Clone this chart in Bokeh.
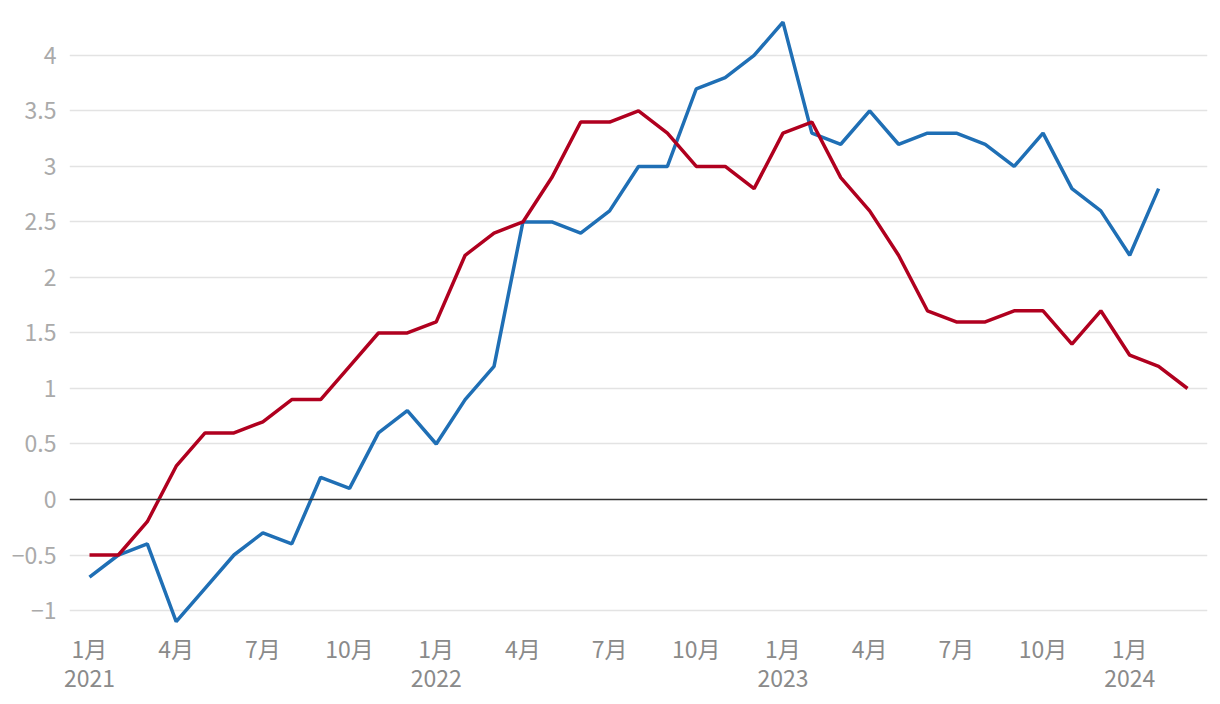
from bokeh.plotting import figure
from bokeh.models import Range1d, LinearAxis, FixedTicker, Span
from bokeh.embed import file_html
from bokeh.resources import INLINE

months = list(range(39))
blue = [-0.7, -0.5, -0.4, -1.1, -0.8, -0.5, -0.3, -0.4, 0.2, 0.1, 0.6, 0.8,
        0.5, 0.9, 1.2, 2.5, 2.5, 2.4, 2.6, 3.0, 3.0, 3.7, 3.8, 4.0,
        4.3, 3.3, 3.2, 3.5, 3.2, 3.3, 3.3, 3.2, 3.0, 3.3, 2.8, 2.6,
        2.2, 2.8]
red = [-0.5, -0.5, -0.2, 0.3, 0.6, 0.6, 0.7, 0.9, 0.9, 1.2, 1.5, 1.5,
       1.6, 2.2, 2.4, 2.5, 2.9, 3.4, 3.4, 3.5, 3.3, 3.0, 3.0, 2.8,
       3.3, 3.4, 2.9, 2.6, 2.2, 1.7, 1.6, 1.6, 1.7, 1.7, 1.4, 1.7,
       1.3, 1.2, 1.0]
month_ticks = [0, 3, 6, 9, 12, 15, 18, 21, 24, 27, 30, 33, 36]
month_labels = ["1月", "4月", "7月", "10月"] * 3 + ["1月"]
year_ticks = [0, 12, 24, 36]
year_labels = ["2021", "2022", "2023", "2024"]
y_ticks = [-1, -0.5, 0, 0.5, 1, 1.5, 2, 2.5, 3, 3.5, 4]

FONT = "Noto Sans CJK JP"

p = figure(width=1220, height=704, output_backend="svg", toolbar_location=None,
           x_range=Range1d(-0.692, 38.692), y_range=Range1d(-1.18, 4.45),
           min_border_left=69, min_border_right=13, min_border_top=5,
           min_border_bottom=74, x_axis_location=None)
p.outline_line_color = None
p.background_fill_color = "white"

p.xgrid.visible = False
p.ygrid.grid_line_color = "#e3e3e3"
p.ygrid.grid_line_width = 1.5
p.ygrid.ticker = FixedTicker(ticks=[t for t in y_ticks if t != 0])

ya = p.yaxis[0]
ya.ticker = FixedTicker(ticks=y_ticks)
ya.major_label_overrides = {t: (("−" if t < 0 else "") + ("%g" % abs(t))) for t in y_ticks}
ya.axis_line_color = None
ya.major_tick_line_color = None
ya.minor_tick_line_color = None
ya.major_tick_out = 0
ya.major_tick_in = 0
ya.major_label_text_font = FONT
ya.major_label_text_font_size = "23px"
ya.major_label_text_color = "#aaaaaa"
ya.major_label_standoff = 13

xa = LinearAxis(ticker=FixedTicker(ticks=month_ticks),
                major_label_overrides={t: l for t, l in zip(month_ticks, month_labels)})
xa2 = LinearAxis(ticker=FixedTicker(ticks=year_ticks),
                 major_label_overrides={t: l for t, l in zip(year_ticks, year_labels)})
for a in (xa, xa2):
    a.axis_line_color = None
    a.major_tick_line_color = None
    a.minor_tick_line_color = None
    a.major_tick_out = 0
    a.major_tick_in = 0
    a.major_label_text_font = FONT
    a.major_label_text_font_size = "23px"
    a.major_label_text_color = "#8a8a8a"
xa.major_label_standoff = 0
xa2.major_label_standoff = 2
p.add_layout(xa, "below")
p.add_layout(xa2, "below")

p.add_layout(Span(location=0, dimension="width", line_color="#333333", line_width=1.5))

p.line(months[:len(blue)], blue, line_color="#1f6fb5", line_width=3.5)
p.line(months[:len(red)], red, line_color="#b0001f", line_width=3.5)

open("out.html", "w").write(file_html(p, INLINE))
